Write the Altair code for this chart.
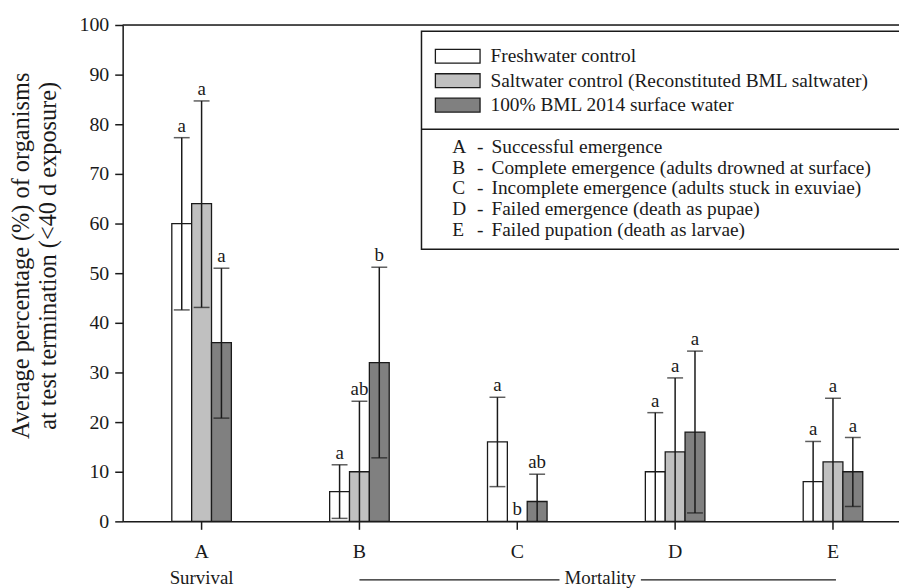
import altair as alt
import pandas as pd

FONT = "Liberation Serif"
INK = "#1a1a1a"

categories = ["A", "B", "C", "D", "E"]
groups = [
    "Freshwater control",
    "Saltwater control (Reconstituted BML saltwater)",
    "100% BML 2014 surface water",
]
colors = ["#ffffff", "#c0c0c0", "#808080"]

# mean values per group (rows) and category (columns)
mean_fresh = [60, 6, 16, 10, 8]
mean_salt = [64, 10, 0, 14, 12]
mean_bml = [36, 32, 4, 18, 10]

# error bar ends (upper / lower), None = no error bar
upper_fresh = [77.3, 11.4, 25.0, 21.9, 16.1]
upper_salt = [84.7, 24.2, None, 28.9, 24.8]
upper_bml = [51.0, 51.2, 9.5, 34.3, 16.9]
lower_fresh = [42.6, 0.6, 7.0, 0.0, 0.0]
lower_salt = [43.1, 0.0, None, 0.0, 0.0]
lower_bml = [20.8, 12.8, 0.0, 1.7, 3.0]

# significance letters
sig_fresh = ["a", "a", "a", "a", "a"]
sig_salt = ["a", "ab", "b", "a", "a"]
sig_bml = ["a", "b", "ab", "a", "a"]

key_letters = ["A", "B", "C", "D", "E"]
key_texts = [
    "Successful emergence",
    "Complete emergence (adults drowned at surface)",
    "Incomplete emergence (adults stuck in exuviae)",
    "Failed emergence (death as pupae)",
    "Failed pupation (death as larvae)",
]
y_title = ["Average percentage (%) of organisms", "at test termination (<40 d exposure)"]

means = [mean_fresh, mean_salt, mean_bml]
uppers = [upper_fresh, upper_salt, upper_bml]
lowers = [lower_fresh, lower_salt, lower_bml]
sigs = [sig_fresh, sig_salt, sig_bml]

rows = []
for gi, g in enumerate(groups):
    for ci, c in enumerate(categories):
        rows.append(dict(cat=c, grp=g, mean=means[gi][ci], hi=uppers[gi][ci],
                         lo=lowers[gi][ci], sig=sigs[gi][ci]))
df = pd.DataFrame(rows)
df["hi"] = pd.to_numeric(df["hi"])
df["lo"] = pd.to_numeric(df["lo"])
df["lab_y"] = df["hi"].fillna(df["mean"])
df_err = df[df["hi"].notna()]
df_lo = df[df["lo"] > 0]

xscale = alt.Scale(domain=categories, range=[0, 795], paddingInner=0, paddingOuter=0)
xaxis = alt.Axis(title=None, labelAngle=0, labelFont=FONT, labelFontSize=20, labelColor=INK,
                 labelPadding=12, tickSize=8, tickWidth=1.5, tickColor=INK,
                 domainColor=INK, domainWidth=1.5)
yscale = alt.Scale(domain=[0, 100], nice=False)
yaxis = alt.Axis(values=list(range(0, 101, 10)), grid=False, labelFont=FONT, labelFontSize=20,
                 labelColor=INK, labelPadding=6, tickSize=8, tickWidth=1.5, tickColor=INK,
                 domainColor=INK, domainWidth=1.5, title=y_title, titleFont=FONT,
                 titleFontSize=24.5, titleFontWeight="normal", titleColor=INK,
                 titleLineHeight=27, titleX=-102, titleY=232, titleAngle=270,
                 titleAlign="center", titleBaseline="middle")


def X():
    return alt.X("cat:N", sort=categories, scale=xscale, axis=xaxis)


def XO():
    return alt.XOffset("grp:N", sort=groups,
                       scale=alt.Scale(domain=groups, range=[49.5, 109.5],
                                       paddingInner=0, paddingOuter=0))


def Y(f):
    return alt.Y(f + ":Q", scale=yscale, axis=yaxis)


base = alt.Chart(df)

bars = base.mark_bar(stroke=INK, strokeWidth=1.3).encode(
    x=X(), xOffset=XO(), y=Y("mean"),
    fill=alt.Fill("grp:N", scale=alt.Scale(domain=groups, range=colors), legend=None),
)
err = alt.Chart(df_err).mark_rule(color=INK, strokeWidth=1.5).encode(
    x=X(), xOffset=XO(), y=Y("lo"), y2="hi:Q")
cap_hi = alt.Chart(df_err).mark_tick(color=INK, thickness=1.5, size=16).encode(
    x=X(), xOffset=XO(), y=Y("hi"))
cap_lo = alt.Chart(df_lo).mark_tick(color=INK, thickness=1.5, size=16).encode(
    x=X(), xOffset=XO(), y=Y("lo"))
sig = base.mark_text(font=FONT, fontSize=19, color=INK, baseline="alphabetic", dy=-6).encode(
    x=X(), xOffset=XO(), y=Y("lab_y"), text="sig:N")

layers = [bars, err, cap_hi, cap_lo, sig]

one = pd.DataFrame({"k": [0]})
# top frame line
layers.append(alt.Chart(one).mark_rule(color=INK, strokeWidth=1.5).encode(
    x=alt.value(0), x2=alt.value(900), y=alt.value(0)))
# legend box and separator
layers.append(alt.Chart(one).mark_rect(fill="white", stroke=INK, strokeWidth=1.5).encode(
    x=alt.value(301), x2=alt.value(900), y=alt.value(6.3), y2=alt.value(225.8)))
layers.append(alt.Chart(one).mark_rule(color=INK, strokeWidth=1.5).encode(
    x=alt.value(301), x2=alt.value(900), y=alt.value(105)))

for i, g in enumerate(groups):
    cy = 31.5 + 24.6 * i
    layers.append(alt.Chart(one).mark_rect(fill=colors[i], stroke=INK, strokeWidth=1.3).encode(
        x=alt.value(315), x2=alt.value(360), y=alt.value(cy - 7), y2=alt.value(cy + 7)))
    layers.append(alt.Chart(pd.DataFrame({"t": [g]})).mark_text(
        font=FONT, fontSize=19.5, color=INK, align="left", baseline="middle").encode(
        x=alt.value(370.5), y=alt.value(cy), text="t:N"))

for i, (L, t) in enumerate(zip(key_letters, key_texts)):
    cy = 122.7 + 21 * i
    layers.append(alt.Chart(pd.DataFrame({"t": [L]})).mark_text(
        font=FONT, fontSize=19.5, color=INK, align="left", baseline="middle").encode(
        x=alt.value(332), y=alt.value(cy), text="t:N"))
    layers.append(alt.Chart(pd.DataFrame({"t": ["-"]})).mark_text(
        font=FONT, fontSize=19.5, color=INK, align="left", baseline="middle").encode(
        x=alt.value(357), y=alt.value(cy), text="t:N"))
    layers.append(alt.Chart(pd.DataFrame({"t": [t]})).mark_text(
        font=FONT, fontSize=19.5, color=INK, align="left", baseline="middle").encode(
        x=alt.value(371.5), y=alt.value(cy), text="t:N"))

# Survival / Mortality annotation
layers.append(alt.Chart(pd.DataFrame({"t": ["Survival"]})).mark_text(
    font=FONT, fontSize=19, color=INK, align="center", baseline="middle").encode(
    x=alt.value(79.5), y=alt.value(557), text="t:N"))
layers.append(alt.Chart(pd.DataFrame({"t": ["Mortality"]})).mark_text(
    font=FONT, fontSize=19, color=INK, align="center", baseline="middle").encode(
    x=alt.value(481), y=alt.value(557), text="t:N"))
layers.append(alt.Chart(one).mark_rule(color=INK, strokeWidth=1.3).encode(
    x=alt.value(238.5), x2=alt.value(440), y=alt.value(559)))
layers.append(alt.Chart(one).mark_rule(color=INK, strokeWidth=1.3).encode(
    x=alt.value(522), x2=alt.value(718.5), y=alt.value(559)))

chart = alt.layer(*layers).properties(
    width=782, height=500,
    autosize=alt.AutoSizeParams(type="none"),
    padding={"left": 115.5, "top": 15, "right": 0, "bottom": 65},
).configure_view(stroke=None).configure(background="white")

chart.save("out.html", embed_options={"renderer": "svg", "actions": False})
